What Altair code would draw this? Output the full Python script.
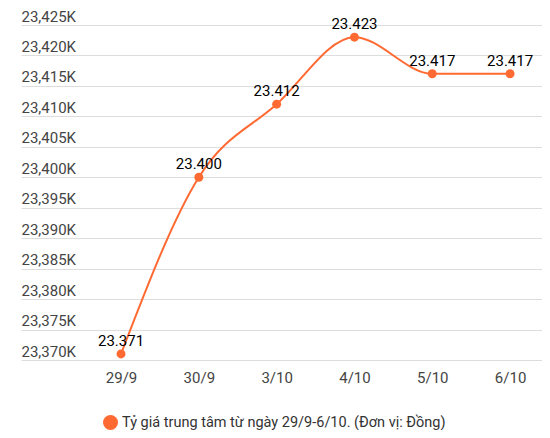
import altair as alt
import pandas as pd

# Dữ liệu tỷ giá trung tâm
dates = ["29/9", "30/9", "3/10", "4/10", "5/10", "6/10"]
rates = [23371, 23400, 23412, 23423, 23417, 23417]
y_ticks = [23370, 23375, 23380, 23385, 23390, 23395, 23400, 23405, 23410, 23415, 23420, 23425]
series_name = "Tỷ giá trung tâm từ ngày 29/9-6/10. (Đơn vị: Đồng)"

ORANGE = "#FF6A33"
FONT = "Roboto"

df = pd.DataFrame({"date": dates, "rate": rates, "series": series_name})

x_enc = alt.X(
    "date:O",
    sort=dates,
    scale=alt.Scale(type="point", padding=0.848, align=0.758),
    axis=alt.Axis(
        title=None, domain=False, ticks=False, grid=False,
        labelFont=FONT, labelFontSize=15, labelColor="#444",
        labelPadding=10, labelAngle=0,
    ),
)
y_enc = alt.Y(
    "rate:Q",
    scale=alt.Scale(domain=[23370, 23425], nice=False, zero=False),
    axis=alt.Axis(
        title=None, domain=False, ticks=False, values=y_ticks,
        labelExpr="format(datum.value, ',') + 'K'",
        labelFont=FONT, labelFontSize=15, labelColor="#444",
        labelAlign="left", labelBaseline="bottom", labelPadding=0, labelOffset=-1,
        gridColor="#dddddd", gridWidth=1,
    ),
)

base = alt.Chart(df).encode(x=x_enc, y=y_enc)

line = base.mark_line(color=ORANGE, strokeWidth=2, interpolate="monotone")

points = base.mark_circle(size=80, opacity=1).encode(
    color=alt.Color(
        "series:N",
        scale=alt.Scale(range=[ORANGE]),
        legend=alt.Legend(
            title=None, orient="none", legendX=82, legendY=390,
            symbolType="circle", symbolSize=225, symbolFillColor=ORANGE,
            symbolStrokeWidth=0, labelFont=FONT, labelFontSize=14.5,
            labelColor="#333", labelLimit=500, padding=0,
        ),
    )
)

labels = base.transform_calculate(
    label="replace(format(datum.rate, ','), ',', '.')"
).mark_text(
    font=FONT, fontSize=15, color="#000",
    baseline="bottom", dy=-5,
).encode(text="label:N")

chart = (line + points + labels).properties(
    width=521,
    height=335,
    autosize=alt.AutoSizeParams(type="none"),
    padding={"left": 13, "top": 17, "right": 0, "bottom": 70},
).configure_view(strokeWidth=0)

chart.save("out.html", embed_options={"renderer": "svg", "actions": False})
